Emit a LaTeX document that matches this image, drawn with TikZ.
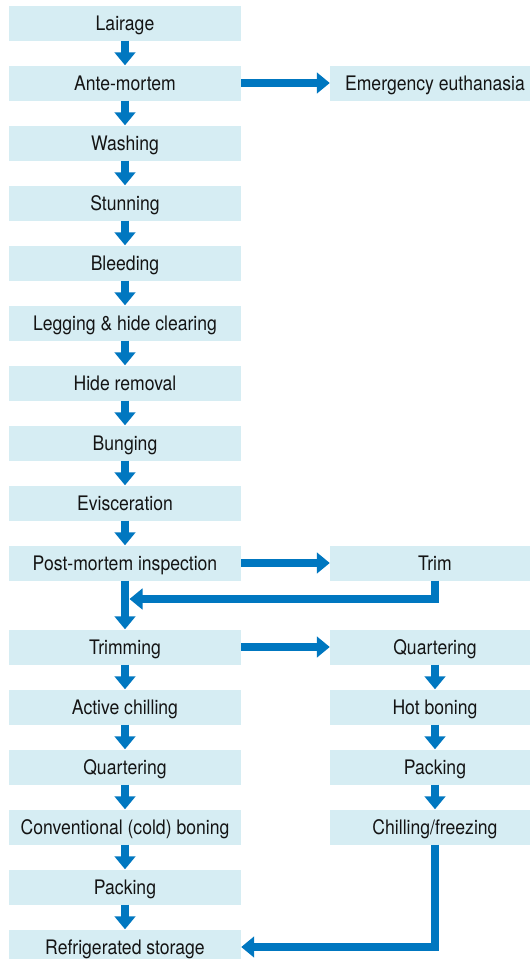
\documentclass[tikz,border=0pt]{standalone}
\usepackage{fontspec}
\setmainfont{TeX Gyre Heros}[FakeStretch=0.88]
\usetikzlibrary{arrows.meta}
\definecolor{boxfill}{HTML}{D6EDF3}
\definecolor{arrblue}{HTML}{0077C0}
\definecolor{txt}{HTML}{141414}
\begin{document}
\begin{tikzpicture}[x=1pt,y=-1pt,
 box/.style={fill=boxfill, minimum height=35pt, inner sep=0pt, text=txt,
   font=\fontsize{20}{24}\selectfont, text height=14.3pt, text depth=0.3pt},
 lbox/.style={box, minimum width=232pt},
 rbox/.style={box, minimum width=210pt},
 flow/.style={draw=arrblue, line width=8.5pt, line join=miter,
   -{Triangle[width=20.5pt,length=13pt]}}
]
\useasboundingbox (0,0) rectangle (530,959);
% left column
\node[lbox] (lair)  at (125,23)  {Lairage};
\node[lbox] (ante)  at (125,83)  {Ante-mortem};
\node[lbox] (wash)  at (125,143) {Washing};
\node[lbox] (stun)  at (125,203) {Stunning};
\node[lbox] (bleed) at (125,263) {Bleeding};
\node[lbox] (legg)  at (125,323) {Legging \& hide clearing};
\node[lbox] (hide)  at (125,383) {Hide removal};
\node[lbox] (bung)  at (125,443) {Bunging};
\node[lbox] (evis)  at (125,503) {Evisceration};
\node[lbox] (post)  at (125,563) {Post-mortem inspection};
\node[lbox] (trimg) at (125,647) {Trimming};
\node[lbox] (act)   at (125,707) {Active chilling};
\node[lbox] (lq)    at (125,767) {Quartering};
\node[lbox] (conv)  at (125,827) {Conventional (cold) boning};
\node[lbox] (lpack) at (125,887) {Packing};
\node[lbox] (refr)  at (125,947) {Refrigerated storage};
% right column
\node[rbox] (emer)  at (435,83)  {Emergency euthanasia};
\node[rbox] (trim)  at (435,563) {Trim};
\node[rbox] (rq)    at (435,647) {Quartering};
\node[rbox] (hot)   at (435,707) {Hot boning};
\node[rbox] (rpack) at (435,767) {Packing};
\node[rbox] (chill) at (435,827) {Chilling/freezing};
\coordinate (join) at (129.5,599);
% connectors
\draw[flow] (lair.south) -- (ante.north);
\draw[flow] (ante.south) -- (wash.north);
\draw[flow] (wash.south) -- (stun.north);
\draw[flow] (stun.south) -- (bleed.north);
\draw[flow] (bleed.south) -- (legg.north);
\draw[flow] (legg.south) -- (hide.north);
\draw[flow] (hide.south) -- (bung.north);
\draw[flow] (bung.south) -- (evis.north);
\draw[flow] (evis.south) -- (post.north);
\draw[flow] (post.south) -- (trimg.north);
\draw[flow] (trimg.south) -- (act.north);
\draw[flow] (act.south) -- (lq.north);
\draw[flow] (lq.south) -- (conv.north);
\draw[flow] (conv.south) -- (lpack.north);
\draw[flow] (lpack.south) -- (refr.north);
\draw[flow] (ante.east) -- (emer.west);
\draw[flow] (post.east) -- (trim.west);
\draw[flow] (trim.south) |- (join);
\draw[flow] (trimg.east) -- (rq.west);
\draw[flow] (rq.south) -- (hot.north);
\draw[flow] (hot.south) -- (rpack.north);
\draw[flow] (rpack.south) -- (chill.north);
\draw[flow] (chill.south) |- (refr.east);
\end{tikzpicture}
\end{document}
